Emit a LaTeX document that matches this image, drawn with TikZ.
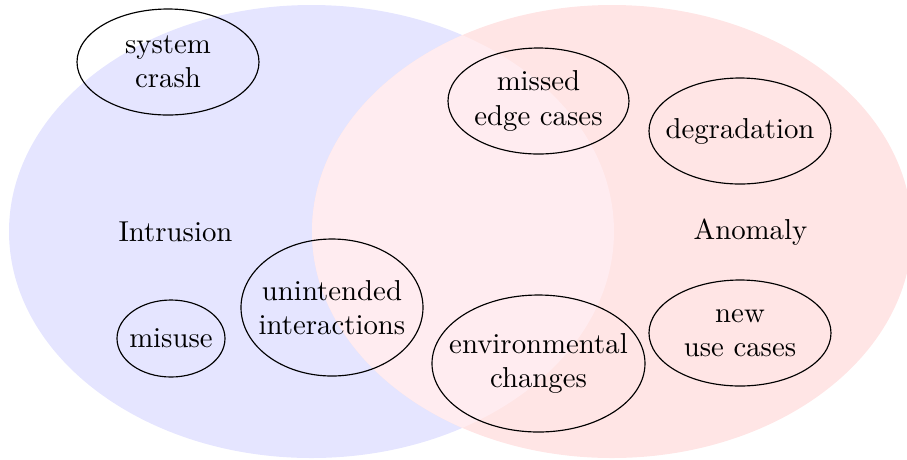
\documentclass[tikz,border=0pt]{standalone}
\usetikzlibrary{shapes.geometric}
\definecolor{intrusionfill}{RGB}{229,229,255}
\definecolor{anomalyfill}{RGB}{255,229,229}
\definecolor{bothfill}{RGB}{255,236,240}
\begin{document}
\begin{tikzpicture}[x=0.34722pt,y=-0.34722pt,
  lbl/.style={align=center,inner sep=0pt},
  ring/.style={draw=black,line width=0.4pt}]
\useasboundingbox (0,0) rectangle (907,459);
\clip (0,0) rectangle (907,459);

% the two sets
\coordinate (ci) at (311.5,231.5);
\coordinate (ca) at (612,231.5);
\fill[intrusionfill] (ci) ellipse [x radius=302.5, y radius=226.5];
\fill[anomalyfill] (ca) ellipse [x radius=300, y radius=226.5];
\begin{scope}
  \clip (ci) ellipse [x radius=302.5, y radius=226.5];
  \fill[bothfill] (ca) ellipse [x radius=300, y radius=226.5];
\end{scope}

% set titles
\node[lbl] (intrusion) at (175.5,232) {Intrusion};
\node[lbl] (anomaly) at (750.5,232) {Anomaly};

% members
\node[lbl] (crash) at (168,62) {system\\crash};
\draw[ring] (crash.center) ellipse [x radius=91, y radius=53];

\node[lbl] (misuse) at (171,338.5) {misuse};
\draw[ring] (misuse.center) ellipse [x radius=54, y radius=38.5];

\node[lbl] (inter) at (332,307.5) {unintended\\interactions};
\draw[ring] (inter.center) ellipse [x radius=91, y radius=68.5];

\node[lbl] (edge) at (538.5,101) {missed\\edge cases};
\draw[ring] (edge.center) ellipse [x radius=90.5, y radius=53];

\node[lbl] (env) at (538.5,363.5) {environmental\\changes};
\draw[ring] (env.center) ellipse [x radius=106.5, y radius=68.5];

\node[lbl] (degr) at (740,131) {degradation};
\draw[ring] (degr.center) ellipse [x radius=91, y radius=53];

\node[lbl] (newuse) at (740,333) {new\\use cases};
\draw[ring] (newuse.center) ellipse [x radius=91, y radius=53];
\end{tikzpicture}
\end{document}
